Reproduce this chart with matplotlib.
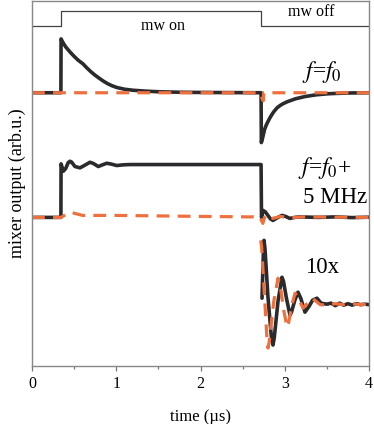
import matplotlib
matplotlib.use("Agg")
import matplotlib.pyplot as plt
from matplotlib.ticker import MultipleLocator

plt.rcParams['font.family'] = ['Liberation Serif', 'DejaVu Serif']
plt.rcParams['mathtext.fontset'] = 'stix'

# ---- data (time in µs, output in arb. units) ----
mw_t = [0.0, 0.344, 0.344, 2.72, 2.72, 4.0]
mw_state = [0, 0, 1, 1, 0, 0]

# f = f0, measured (black)
f0_meas_t = [0.0, 0.343, 0.345, 0.37, 0.40, 0.45, 0.50, 0.55, 0.605, 0.65, 0.70, 0.75, 0.807, 0.85,
             0.90, 0.95, 1.01, 1.1, 1.2, 1.35, 1.5, 1.75, 2.0, 2.719,
             2.722, 2.735, 2.76, 2.78, 2.80, 2.825, 2.85, 2.87, 2.91, 2.95, 2.98, 3.03, 3.08, 3.13,
             3.18, 3.24, 3.30, 3.38, 3.45, 3.52, 3.60, 3.70, 3.80, 3.90, 4.0]
f0_meas_v = [274, 274, 328, 324, 320, 315, 310.5, 306.5, 303, 299, 295, 291.5, 288, 285.5,
             283, 281, 279.2, 277.5, 276.5, 275.6, 275, 274.5, 274.3, 274,
             224, 228, 237, 241.5, 245, 249, 252.5, 255, 259, 261.5, 263, 265, 266.5, 268,
             269, 270.2, 271, 272, 272.5, 273, 273.3, 273.6, 273.8, 273.9, 274]
# f = f0, simulated (orange dashed)
f0_sim_t = [0.0, 2.70, 2.745, 2.75, 4.0]
f0_sim_v = [274, 274, 266, 274, 274]

# f = f0 + 5 MHz, measured
f5_meas_t = [0.0, 0.343, 0.345, 0.372, 0.40, 0.43, 0.451, 0.47, 0.51, 0.57, 0.62, 0.688, 0.73,
             0.787, 0.83, 0.887, 0.94, 1.005, 1.08, 1.163, 2.719,
             2.724, 2.742, 2.77, 2.80, 2.83, 2.86, 2.92, 2.967, 3.01, 3.06, 3.12, 3.18, 3.4, 3.6, 3.8, 4.0]
f5_meas_v = [149, 149, 202.7, 195.3, 198, 204, 205.3, 204.5, 200, 198.7, 201, 204.3, 203,
             200, 201.5, 203.3, 202.5, 201, 201.7, 202, 202,
             149, 156, 154.5, 151, 147.5, 146, 149, 151, 150, 148, 149, 149.5, 149, 149.5, 148.8, 149.2]
# f = f0 + 5 MHz, simulated
f5_sim_t = [0.0, 0.344, 0.45, 0.60, 1.0, 1.5, 2.0, 2.60, 2.70, 2.74, 2.76, 2.80, 2.86, 2.95, 3.05, 3.2, 4.0]
f5_sim_v = [149, 149, 154.3, 151, 151, 150.5, 150, 149.5, 150, 143, 149, 152, 148, 150, 148.5, 149.5, 149]

# 10x magnified, measured
x10_meas_t = [2.730, 2.745, 2.754, 2.765, 2.80, 2.84, 2.86, 2.875, 2.92, 2.967, 2.985, 3.02, 3.062,
              3.08, 3.12, 3.157, 3.19, 3.24, 3.29, 3.33, 3.383, 3.43, 3.50, 3.55, 3.60, 3.65,
              3.70, 3.75, 3.80, 3.85, 3.90, 3.95, 4.0]
x10_meas_v = [68, 110, 126, 118, 70, 30, 21, 28, 65, 89, 85, 68, 51,
              54, 66, 74, 68, 54, 60, 66, 68, 63, 62, 63, 60.5, 63,
              61, 62.5, 61, 62.5, 61.5, 62, 61.5]
# 10x magnified, simulated
x10_sim_t = [2.714, 2.725, 2.76, 2.79, 2.801, 2.815, 2.87, 2.92, 2.94, 2.99, 3.027, 3.045, 3.09,
             3.122, 3.15, 3.217, 3.26, 3.323, 3.37, 3.42, 3.5, 3.6, 3.7, 3.8, 3.9, 4.0]
x10_sim_v = [126, 120, 70, 25, 18, 24, 65, 88, 84, 55, 39, 43, 63,
             73, 70, 58, 62, 68, 65, 61.5, 61, 62.5, 61.5, 62.5, 61.5, 62]

xticks = [0, 1, 2, 3, 4]

# ---- figure ----
fig = plt.figure(figsize=(3.74, 4.24), dpi=100)
ax = fig.add_axes([32/374, 58/424, 337/374, 365/424])

black = '#2b2b2e'
orange = '#ef703f'
lw_b = 2.6
lw_o = 2.3
dash = (4, 2.6)

mw_lo, mw_hi = 341, 356
ax.plot(mw_t, [mw_lo + s * (mw_hi - mw_lo) for s in mw_state], color='#444444', lw=0.9)

for t, v in [(f0_meas_t, f0_meas_v), (f5_meas_t, f5_meas_v), (x10_meas_t, x10_meas_v)]:
    ax.plot(t, v, color=black, lw=lw_b, solid_joinstyle='round', solid_capstyle='round')
for t, v in [(f0_sim_t, f0_sim_v), (f5_sim_t, f5_sim_v), (x10_sim_t, x10_sim_v)]:
    ax.plot(t, v, color=orange, lw=lw_o, dashes=dash, dash_capstyle='butt')

ax.set_xlim(0, 4)
ax.set_ylim(0, 366)
ax.set_xticks(xticks)
ax.set_xticklabels([str(x) for x in xticks])
ax.xaxis.set_minor_locator(MultipleLocator(0.5))
ax.set_yticks([])
ax.tick_params(axis='x', which='major', direction='out', length=3.5, width=0.9,
               color='#777777', labelsize=11.5, pad=4)
ax.tick_params(axis='x', which='minor', direction='out', length=2, width=0.9, color='#777777')
for s in ax.spines.values():
    s.set_color('#888888')
    s.set_linewidth(1.0)

ax.set_xlabel('time (µs)', fontsize=12, labelpad=12)
ax.set_ylabel('mixer output (arb.u.)', fontsize=13, labelpad=4)

ax.text(1.55, 341, 'mw on', fontsize=11.5, ha='center', va='center')
ax.text(3.32, 355, 'mw off', fontsize=11.5, ha='center', va='center')
ax.text(3.2, 295, r'$f$=$f_0$', fontsize=17, ha='left', va='center')
ax.text(3.16, 199, r'$f$=$f_0$+', fontsize=17, ha='left', va='center')
ax.text(3.22, 169, '5 MHz', fontsize=16.5, ha='left', va='center')
ax.text(3.24, 99, '10x', fontsize=16.5, ha='left', va='center')

fig.savefig('out.png', dpi=100)
